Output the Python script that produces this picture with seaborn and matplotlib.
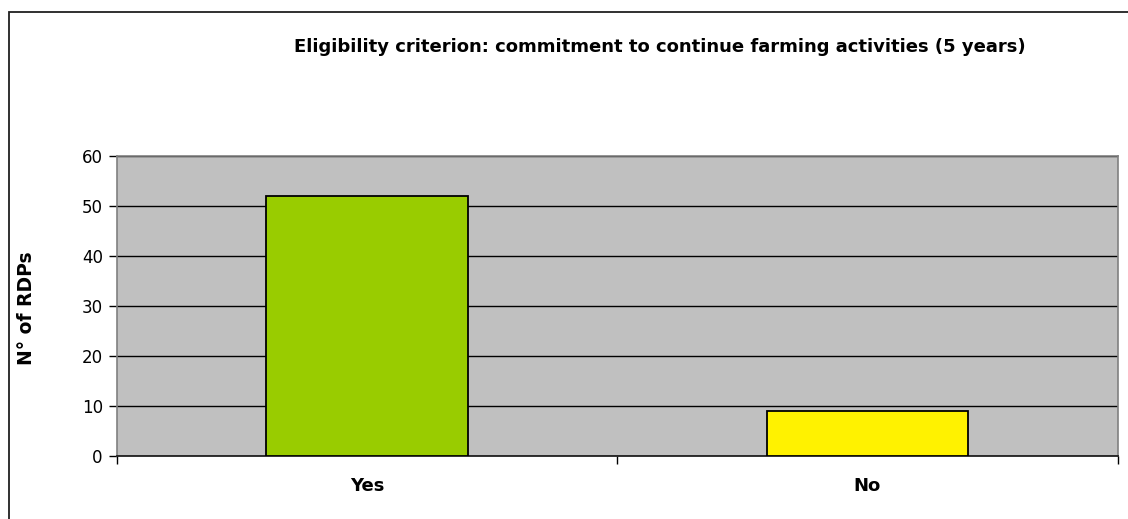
import matplotlib
matplotlib.use("Agg")
import matplotlib.pyplot as plt
import seaborn as sns
import pandas as pd
from matplotlib.patches import Rectangle

answers = ["Yes", "No"]
rdp_counts = [52, 9]
bar_colors = ["#99CC00", "#FFF200"]
y_ticks = [0, 10, 20, 30, 40, 50, 60]

title = "Eligibility criterion: commitment to continue farming activities (5 years)"
y_label = "N° of RDPs"

sns.set_theme(style="white")
plt.rcParams["font.family"] = ["DejaVu Sans"]
plt.rcParams["text.color"] = "black"
plt.rcParams["xtick.color"] = "black"
plt.rcParams["ytick.color"] = "black"

df = pd.DataFrame({"answer": answers, "count": rdp_counts})

W, H = 1128, 519
fig = plt.figure(figsize=(W / 100, H / 100), dpi=100)
ax = fig.add_axes([116.7 / W, 1 - 455.7 / H, (1117.7 - 116.7) / W, (455.7 - 155.7) / H])
ax.set_facecolor("#C0C0C0")

sns.barplot(data=df, x="answer", y="count", hue="answer", palette=bar_colors,
            width=0.403, edgecolor="black", linewidth=1.3, legend=False,
            ax=ax, zorder=3, saturation=1)

ax.set_ylim(0, 60)
ax.set_xlim(-0.5, 1.5)
ax.set_yticks(y_ticks)
ax.set_yticklabels([str(v) for v in y_ticks], fontsize=12)
ax.yaxis.grid(True, color="black", linewidth=1.0, zorder=1)
ax.set_axisbelow(True)

# category labels centred, tick marks at the category boundaries
ax.set_xticks([0, 1])
ax.set_xticklabels(answers, fontsize=13, fontweight="bold")
ax.tick_params(axis="x", which="major", length=0, pad=15)
ax.set_xticks([-0.5, 0.5, 1.5], minor=True)
ax.tick_params(axis="x", which="minor", length=6, width=1, color="black", bottom=True)
ax.tick_params(axis="y", which="major", length=6, width=1, color="black", left=True, pad=4)

ax.set_xlabel("")
ax.set_ylabel("")
for side in ["top", "right", "left"]:
    ax.spines[side].set_color("#808080")
    ax.spines[side].set_linewidth(1.2)
ax.spines["bottom"].set_color("#202020")
ax.spines["bottom"].set_linewidth(1.3)

fig.text(660 / W, 1 - 51.5 / H, title, ha="center", va="baseline",
         fontsize=13, fontweight="bold")
fig.text(27 / W, 1 - 308 / H, y_label, ha="center", va="center",
         rotation=90, fontsize=13.5, fontweight="bold")

# outer chart frame
fig.patches.append(Rectangle((9 / W, -0.1), 1.2, 1 - 12 / H + 0.1,
                             transform=fig.transFigure, fill=False,
                             edgecolor="#202020", linewidth=1.3))

fig.savefig("out.png", dpi=100)
